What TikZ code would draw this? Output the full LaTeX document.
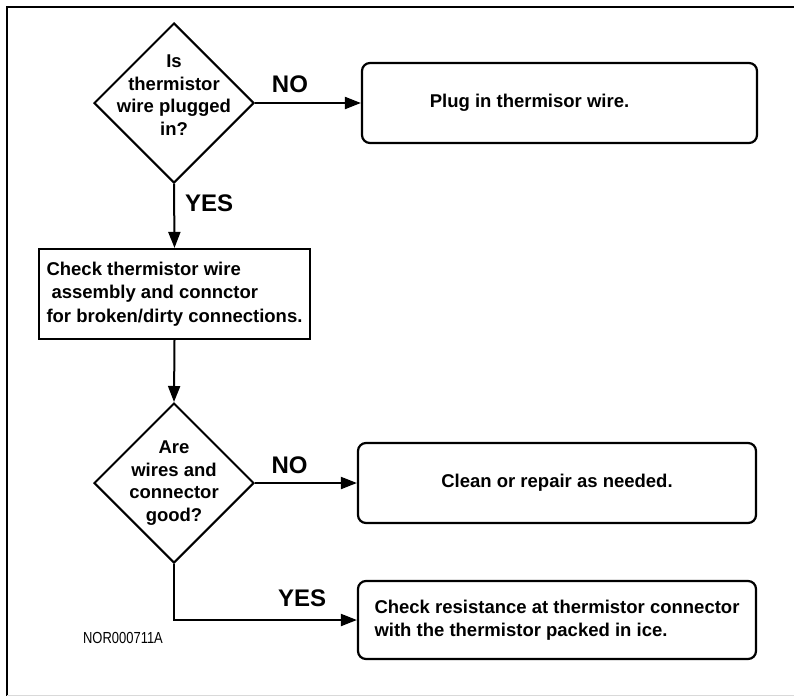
\documentclass[tikz,border=0pt]{standalone}
\usepackage{fontspec}
\setmainfont{Liberation Sans}
\usepackage{graphicx}
\usepackage{tikz}
\usetikzlibrary{shapes.geometric, arrows.meta, positioning}
\tikzstyle{decision} = [diamond, aspect=1, draw, line width=2pt, minimum size=160pt, inner sep=0pt]
\tikzstyle{qtext} = [align=center, font=\fontsize{18.5}{22.7}\selectfont\bfseries]
\tikzstyle{process} = [rectangle, draw, line width=2.2pt, minimum width=271pt, minimum height=90pt, align=left, font=\fontsize{18.5}{23.5}\selectfont\bfseries]
\tikzstyle{outcome} = [rectangle, rounded corners=8pt, draw, line width=2.2pt, minimum width=398pt, minimum height=80pt, align=left, font=\fontsize{18.5}{23}\selectfont\bfseries]
\tikzstyle{answer} = [font=\fontsize{24}{26}\selectfont\bfseries, inner sep=3pt]
\tikzstyle{arrow} = [line width=2pt, -{Triangle[length=16pt,width=12pt]}]

\begin{document}
\begin{tikzpicture}[x=1pt, y=-1pt]
    \useasboundingbox (0,0) rectangle (794,696);

    % Marco
    \draw [line width=2.8pt] (794,7) -- (7,7) -- (7,696);
    \draw [black!15, line width=1pt] (7,695) -- (794,695);

    % Preguntas
    \node (wireq) [decision, label={[qtext, yshift=8pt]center:{Is\\thermistor\\wire plugged\\in?}}] at (174,103) {};
    \node (goodq) [decision, label={[qtext]center:{Are\\wires and\\connector\\good?}}] at (174,483) {};

    % Pasos
    \node (verify) [process] at (174.5,294) {Check thermistor wire\\\hspace{5pt}assembly and connctor\\for broken/dirty connections.};
    \node (plugin) [outcome, minimum width=395pt, label={[qtext, xshift=-30pt]center:Plug in thermisor wire.}] at (559.5,103) {};
    \node (clean) [outcome] at (557,483) {Clean or repair as needed.};
    \node (resist) [outcome, minimum height=78pt] at (557,620) {Check resistance at thermistor connector\\with the thermistor packed in ice.};

    % Codigo
    \node (code) [font=\fontsize{16}{18}\selectfont] at (123,638) {\scalebox{0.81}[1]{NOR000711A}};

    % Flechas
    \draw [arrow] (wireq.east) -- node[answer, pos=0.33, above=6pt] {NO} (plugin.west);
    \draw [arrow] (wireq.south) -- node[answer, pos=0.3, right=7pt] {YES} (verify.north);
    \draw [arrow] (verify.south) -- (goodq.north);
    \draw [arrow] (goodq.east) -- node[answer, pos=0.34, above=5pt] {NO} (clean.west);
    \draw [arrow] (goodq.south) |- node[answer, pos=0.85, above=9pt] {YES} (resist.west);
\end{tikzpicture}
\end{document}
